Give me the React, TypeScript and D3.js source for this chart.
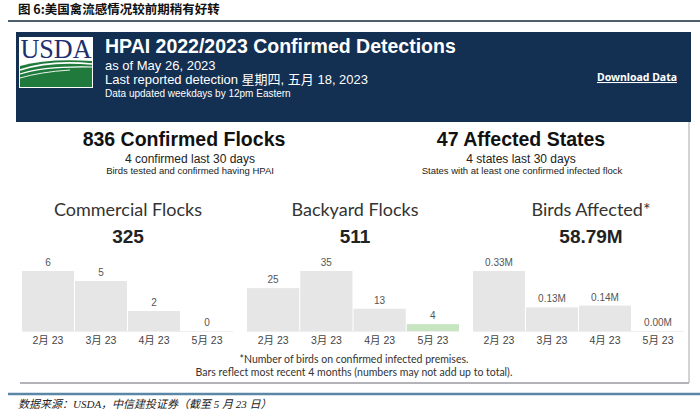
import * as d3 from 'd3'

// chart data
const months = ['2月 23', '3月 23', '4月 23', '5月 23']
const commercialFlocks = [6, 5, 2, 0]
const backyardFlocks = [25, 35, 13, 4]
const birdsAffected = [0.33, 0.13, 0.14, 0.0] // millions

const totals = {
  flocks: '836 Confirmed Flocks',
  states: '47 Affected States',
}

const NAVY = '#132f52'
const BAR = '#e6e6e6'
const BAR_CURRENT = '#c6e5c0'
const CJK = '"Liberation Sans", "Noto Sans CJK SC", sans-serif'
const ARIAL = '"Liberation Sans", Arial, sans-serif'
const NARROW = '"Liberation Sans Narrow", "Liberation Sans", sans-serif'
const LIGHT = 'Lato, "Open Sans", sans-serif'

type Panel = {
  title: string
  total: string
  values: number[]
  fmt: (v: number) => string
  x0: number
  x1: number
  cx: number
}

const panels: Panel[] = [
  { title: 'Commercial Flocks', total: '325', values: commercialFlocks, fmt: (v) => String(v), x0: 22, x1: 233, cx: 128 },
  { title: 'Backyard Flocks', total: '511', values: backyardFlocks, fmt: (v) => String(v), x0: 247, x1: 459, cx: 355 },
  { title: 'Birds Affected*', total: '58.79M', values: birdsAffected, fmt: (v) => v.toFixed(2) + 'M', x0: 473, x1: 684, cx: 591 },
]

const baseY = 331
const topY = 271

function MiniBars({ p }: { p: Panel }) {
  const x = d3.scaleBand<string>().domain(months).range([p.x0, p.x1]).paddingInner(0.02)
  const y = d3
    .scaleLinear()
    .domain([0, d3.max(p.values)!])
    .range([baseY, topY])
  return (
    <g>
      <line x1={p.x0} x2={p.x1} y1={baseY + 0.5} y2={baseY + 0.5} stroke="#eeeeee" />
      {p.values.map((v, i) => (
        <g key={i}>
          <rect
            x={x(months[i])!}
            width={x.bandwidth()}
            y={y(v)}
            height={baseY - y(v)}
            fill={i === months.length - 1 ? BAR_CURRENT : BAR}
          />
          <text
            x={x(months[i])! + x.bandwidth() / 2}
            y={y(v) - 5}
            textAnchor="middle"
            fontSize={10}
            fill="#555"
            fontFamily={ARIAL}
          >
            {p.fmt(v)}
          </text>
          <text
            x={x(months[i])! + x.bandwidth() / 2}
            y={344}
            textAnchor="middle"
            fontSize={10.5}
            fill="#444"
            fontFamily={CJK}
          >
            {months[i]}
          </text>
        </g>
      ))}
      <text x={p.cx} y={216} textAnchor="middle" fontSize={18} fill="#333" fontFamily={LIGHT}>
        {p.title}
      </text>
      <text x={p.cx} y={243} textAnchor="middle" fontSize={19} fontWeight="bold" fill="#222" fontFamily={ARIAL}>
        {p.total}
      </text>
    </g>
  )
}

function Logo() {
  return (
    <g>
      <rect x={19} y={37} width={74} height={51} fill="#fff" />
      <text
        x={56}
        y={58}
        textAnchor="middle"
        fontSize={27}
        fontFamily='"Liberation Serif", serif'
        fill="#1d2f6f"
        textLength={71}
        lengthAdjust="spacingAndGlyphs"
      >
        USDA
      </text>
      <path d="M20,66 Q48,58 92,61 L92,87 L20,87 Z" fill="#1f7a3c" />
      <path d="M20,70 Q50,60 92,64" stroke="#fff" strokeWidth={1.6} fill="none" />
      <path d="M20,74 Q44,66 92,67" stroke="#fff" strokeWidth={1.2} fill="none" />
      <path d="M20,78 Q40,72 70,70" stroke="#fff" strokeWidth={0.9} fill="none" />
    </g>
  )
}

export default function App() {
  return (
    <div style={{ position: 'absolute', left: 0, top: 0 }}>
      <svg width={700} height={420} viewBox="0 0 700 420" style={{ display: 'block', background: '#fff' }}>
        {/* figure caption */}
        <text x={18} y={14} fontSize={12.5} fontWeight="bold" fontFamily='"Noto Sans CJK SC", sans-serif' fill="#111">
          图 6:美国禽流感情况较前期稍有好转
        </text>
        <line x1={8} x2={700} y1={21} y2={21} stroke="#4f5f6e" strokeWidth={2} />

        {/* card borders */}
        <line x1={689} x2={689} y1={32} y2={383} stroke="#c4c4c4" strokeWidth={1.5} />
        <line x1={20} x2={689} y1={383} y2={383} stroke="#b4b4b8" strokeWidth={2} />

        {/* header */}
        <rect x={16} y={32} width={675} height={90} fill={NAVY} />
        <Logo />
        <text x={105} y={53} fontSize={19.5} fontWeight="bold" fill="#fff" fontFamily={ARIAL}>
          HPAI 2022/2023 Confirmed Detections
        </text>
        <text x={105} y={70} fontSize={13} fill="#fff" fontFamily={ARIAL}>
          as of May 26, 2023
        </text>
        <text x={105} y={84} fontSize={13} fill="#fff" fontFamily={CJK}>
          Last reported detection 星期四, 五月 18, 2023
        </text>
        <text x={105} y={97} fontSize={10} fill="#fff" fontFamily={ARIAL}>
          Data updated weekdays by 12pm Eastern
        </text>
        <text
          x={677}
          y={81}
          textAnchor="end"
          fontSize={10.5}
          fontWeight="bold"
          fill="#fff"
          textDecoration="underline"
          fontFamily='"Noto Sans", "DejaVu Sans", sans-serif'
        >
          Download Data
        </text>

        {/* totals */}
        <text x={184} y={146} textAnchor="middle" fontSize={19.5} fontWeight="bold" fill="#111" fontFamily={NARROW}>
          {totals.flocks}
        </text>
        <text x={190} y={163} textAnchor="middle" fontSize={12} fill="#222" fontFamily={NARROW}>
          4 confirmed last 30 days
        </text>
        <text x={190} y={174} textAnchor="middle" fontSize={9.5} fill="#222" fontFamily={NARROW}>
          Birds tested and confirmed having HPAI
        </text>
        <text x={521} y={146} textAnchor="middle" fontSize={19.5} fontWeight="bold" fill="#111" fontFamily={NARROW}>
          {totals.states}
        </text>
        <text x={521} y={163} textAnchor="middle" fontSize={12} fill="#222" fontFamily={NARROW}>
          4 states last 30 days
        </text>
        <text x={522} y={174} textAnchor="middle" fontSize={9.5} fill="#222" fontFamily={NARROW}>
          States with at least one confirmed infected flock
        </text>

        {panels.map((p) => (
          <MiniBars key={p.title} p={p} />
        ))}

        {/* footnote */}
        <text x={354} y={363} textAnchor="middle" fontSize={10.5} fill="#333" fontFamily={LIGHT}>
          *Number of birds on confirmed infected premises.
        </text>
        <text x={354} y={376} textAnchor="middle" fontSize={10.5} fill="#333" fontFamily={LIGHT}>
          Bars reflect most recent 4 months (numbers may not add up to total).
        </text>

        {/* source */}
        <line x1={8} x2={700} y1={394} y2={394} stroke="#5b87a7" strokeWidth={2.5} />
        <text
          x={18}
          y={408}
          fontSize={11}
          fontStyle="italic"
          fill="#222"
          fontFamily='"Liberation Serif", "Noto Sans CJK SC", serif'
        >
          数据来源：USDA，中信建投证券（截至 5 月 23 日）
        </text>
      </svg>
    </div>
  )
}
